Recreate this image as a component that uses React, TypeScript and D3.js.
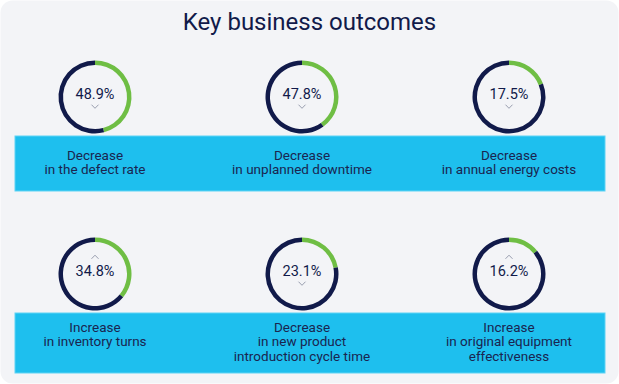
import * as d3 from "d3"
import React, { useEffect, useRef } from "react"

// Values as labelled, and the share of each ring drawn green (read from the rings).
const labels = ["48.9%", "47.8%", "17.5%", "34.8%", "23.1%", "16.2%"]
const ringShares = [46, 40, 19, 36, 22, 14]
const directions = ["down", "down", "down", "up", "down", "up"]
const captions = [
    ["Decrease", "in the defect rate"],
    ["Decrease", "in unplanned downtime"],
    ["Decrease", "in annual energy costs"],
    ["Increase", "in inventory turns"],
    ["Decrease", "in new product", "introduction cycle time"],
    ["Increase", "in original equipment", "effectiveness"],
]
const title = "Key business outcomes"

const W = 619
const H = 384
const NAVY = "#111a4a"
const GREEN = "#6fbe44"
const BAND = "#1ebfee"
const FONT = "Roboto, 'Noto Sans', sans-serif"

const App = () => {
    const refSvg = useRef<SVGSVGElement>(null)

    useEffect(() => {
        const svg = d3.select(refSvg.current)
        svg.selectAll("*").remove()

        // Panel
        svg.append("rect").attr("width", W).attr("height", H).attr("fill", "#ffffff")
        svg.append("rect")
            .attr("x", 0.5).attr("y", 0.5)
            .attr("width", W - 1).attr("height", H - 1)
            .attr("rx", 12)
            .attr("fill", "#f3f4f7")

        svg.append("text")
            .attr("x", W / 2).attr("y", 30)
            .attr("text-anchor", "middle")
            .attr("font-family", FONT)
            .attr("font-size", 24)
            .attr("fill", NAVY)
            .text(title)

        // Layout: three columns, two rows.
        const scaleX = d3.scalePoint<number>().domain([0, 1, 2]).range([95, 509])
        const rows = [
            { cy: 97, bandTop: 136, bandBottom: 191, textY: 159.5 },
            { cy: 274, bandTop: 313, bandBottom: 373, textY: 331.5 },
        ]

        rows.forEach(r => {
            svg.append("rect")
                .attr("x", 15).attr("y", r.bandTop)
                .attr("width", 590).attr("height", r.bandBottom - r.bandTop)
                .attr("fill", BAND)
                .attr("stroke", "#5fd3f5")
                .attr("stroke-width", 1)
        })

        const pie = d3.pie<number>().sort(null).value(d => d)
        const arc = d3.arc<d3.PieArcDatum<number>>().innerRadius(32).outerRadius(36.5)

        labels.forEach((label, i) => {
            const row = rows[Math.floor(i / 3)]
            const cx = scaleX(i % 3) as number
            const g = svg.append("g").attr("transform", `translate(${cx}, ${row.cy})`)

            g.selectAll("path.ring")
                .data(pie([ringShares[i], 100 - ringShares[i]]))
                .join("path")
                .attr("class", "ring")
                .attr("d", arc)
                .attr("fill", (d, j) => j === 0 ? GREEN : NAVY)

            g.append("text")
                .attr("y", 1.5)
                .attr("text-anchor", "middle")
                .attr("font-family", FONT)
                .attr("font-size", 14.5)
                .attr("fill", NAVY)
                .text(label)

            // Chevron
            const up = directions[i] === "up"
            const chevY = up ? -17 : 9.5
            const dy = up ? 1.8 : -1.8
            g.append("path")
                .attr("d", `M-3.5,${chevY + dy} L0,${chevY - dy} L3.5,${chevY + dy}`)
                .attr("fill", "none")
                .attr("stroke", "#8d93a6")
                .attr("stroke-width", 0.9)

            const t = svg.append("text")
                .attr("text-anchor", "middle")
                .attr("font-family", FONT)
                .attr("font-size", 13.5)
                .attr("fill", "#1a2550")
            captions[i].forEach((line, k) => {
                t.append("tspan")
                    .attr("x", cx)
                    .attr("y", row.textY + k * 14.8)
                    .text(line)
            })
        })
    }, [])

    return (
        <svg
            ref={refSvg}
            width={W}
            height={H}
            style={{ position: "absolute", left: 0, top: 0, display: "block" }}
        ></svg>
    )
}

export default App
